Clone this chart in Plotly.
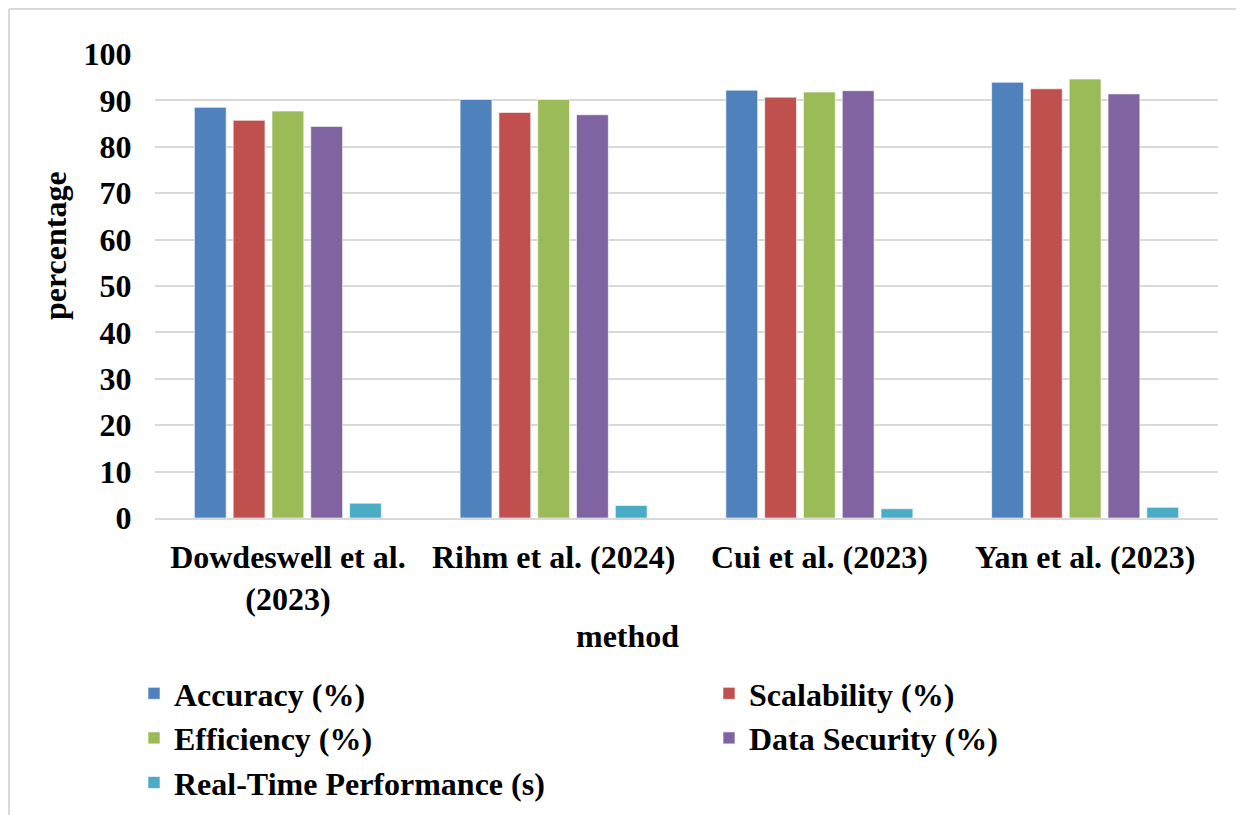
import plotly.graph_objects as go

methods = ["Dowdeswell et al.<br>(2023)", "Rihm et al. (2024)", "Cui et al. (2023)", "Yan et al. (2023)"]
accuracy = [88.5, 90.2, 92.2, 93.9]
scalability = [85.7, 87.4, 90.7, 92.5]
efficiency = [87.7, 90.2, 91.8, 94.6]
data_security = [84.4, 86.9, 92.1, 91.4]
real_time = [3.2, 2.7, 2.0, 2.3]

series_names = ["Accuracy (%)", "Scalability (%)", "Efficiency (%)", "Data Security (%)", "Real-Time Performance (s)"]
series_values = [accuracy, scalability, efficiency, data_security, real_time]
colors = ["#4F81BD", "#C0504D", "#9BBB59", "#8064A2", "#4BACC6"]

FONT = "Liberation Serif"
FS = 32

# page body has an 8px margin; figure sized so it ends at the window edge
OX, OY = 8, 8
W, H = 1244 - OX, 815 - OY
# plot area in screen pixels
SL, SR, ST, SB = 155, 1218, 54, 518
L, T = SL - OX, ST - OY
R, B = W - (SR - OX), H - (SB - OY)
PW, PH = W - L - R, H - T - B

def px_x(sx):
    return (sx - OX - L) / PW

def px_y(sy):
    return 1 - (sy - OY - T) / PH

fig = go.Figure()
for name, vals, col in zip(series_names, series_values, colors):
    fig.add_trace(go.Bar(
        x=methods, y=vals, name=name,
        marker=dict(color=col, line=dict(color="rgba(255,255,255,0.6)", width=1)),
    ))

fig.update_layout(
    width=W, height=H,
    margin=dict(l=L, r=R, t=T, b=B, autoexpand=False),
    paper_bgcolor="white", plot_bgcolor="white",
    barmode="group", bargap=0.27, bargroupgap=0.18,
    font=dict(family=FONT, size=FS, color="black"),
    showlegend=True,
    legend=dict(
        orientation="h", x=px_x(134), xanchor="left", y=px_y(666), yanchor="top",
        entrywidth=530, entrywidthmode="pixels", itemwidth=30,
        font=dict(family=FONT, size=FS, color="black", weight="bold"),
        tracegroupgap=0, bgcolor="rgba(0,0,0,0)",
    ),
    xaxis=dict(
        showgrid=False, showline=True, linecolor="#D9D9D9", linewidth=2,
        tickfont=dict(family=FONT, size=FS, color="black", weight="bold"),
        ticks="outside", ticklen=10, tickcolor="rgba(0,0,0,0)",
    ),
    yaxis=dict(
        range=[0, 100], dtick=10, showgrid=True, gridcolor="#D9D9D9", gridwidth=1.5,
        zeroline=False, showline=False,
        tickfont=dict(family=FONT, size=FS, color="black", weight="bold"),
        ticks="outside", ticklen=16, tickcolor="rgba(0,0,0,0)",
    ),
    annotations=[
        dict(text="<b>percentage</b>", xref="paper", yref="paper", x=px_x(55), y=px_y(246),
             textangle=-90, showarrow=False, font=dict(family=FONT, size=FS, color="black"),
             xanchor="center", yanchor="middle"),
        dict(text="<b>method</b>", xref="paper", yref="paper", x=px_x(627), y=px_y(636),
             showarrow=False, font=dict(family=FONT, size=FS, color="black"),
             xanchor="center", yanchor="middle"),
    ],
    shapes=[
        dict(type="line", xref="paper", yref="paper", x0=px_x(9), x1=px_x(9), y0=px_y(9), y1=px_y(815),
             line=dict(color="#D9D9D9", width=2)),
        dict(type="line", xref="paper", yref="paper", x0=px_x(9), x1=px_x(1244), y0=px_y(9), y1=px_y(9),
             line=dict(color="#D9D9D9", width=2)),
    ],
)

fig.write_html("out.html")
